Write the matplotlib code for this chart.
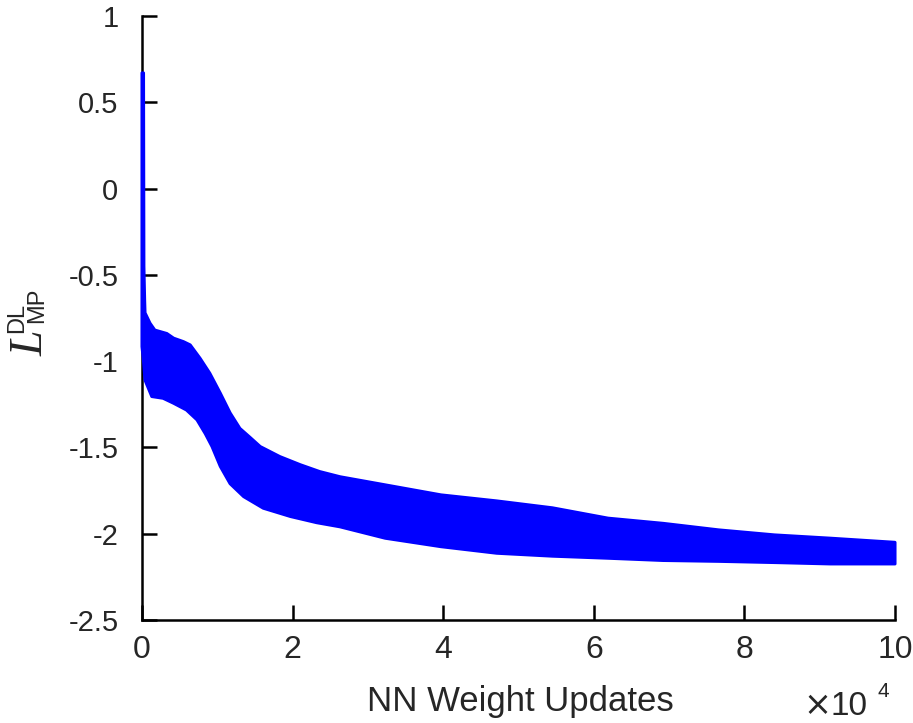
import numpy as np
import matplotlib
matplotlib.use("Agg")
import matplotlib.pyplot as plt

# envelope of the (very dense) loss trace
# x in units of 10^4 weight updates
x_hi = [0, 0.02, 0.025, 0.035, 0.04, 0.106, 0.17, 0.33, 0.42, 0.55, 0.64,
        0.77, 0.90, 1.04, 1.17, 1.30, 1.43, 1.57, 1.83, 2.10, 2.36, 2.63,
        3.23, 3.97, 4.71, 5.45, 6.19, 6.92, 7.66, 8.40, 9.14, 10.0]
loss_hi = [0.67, 0.67, -0.45, -0.65, -0.72, -0.78, -0.82, -0.84, -0.867, -0.887, -0.906,
           -0.983, -1.07, -1.186, -1.30, -1.39, -1.44, -1.495, -1.553, -1.60, -1.64, -1.67,
           -1.717, -1.775, -1.81, -1.85, -1.91, -1.94, -1.978, -2.007, -2.026, -2.05]

x_lo = [0, 0.02, 0.04, 0.13, 0.28, 0.42, 0.59, 0.73, 0.84, 0.93, 1.04,
        1.17, 1.35, 1.61, 1.97, 2.32, 2.63, 3.23, 3.97, 4.71, 5.45, 6.19,
        6.92, 7.66, 8.40, 9.14, 10.0]
loss_lo = [-0.916, -1.0, -1.11, -1.205, -1.215, -1.244, -1.283, -1.34, -1.42, -1.495, -1.61,
           -1.71, -1.785, -1.852, -1.90, -1.936, -1.96, -2.026, -2.075, -2.113, -2.13, -2.142,
           -2.155, -2.16, -2.167, -2.175, -2.175]

xticks = [0, 2, 4, 6, 8, 10]
yticks = [-2.5, -2, -1.5, -1, -0.5, 0, 0.5, 1]
ytick_labels = ["-2.5", "-2", "-1.5", "-1", "-0.5", "0", "0.5", "1"]

W, H = 913, 723
txt = "#262626"
plt.rcParams["font.family"] = ["Liberation Sans", "DejaVu Sans"]

fig = plt.figure(figsize=(W / 100, H / 100), dpi=100)
ax = fig.add_axes([142 / W, 1 - 620 / H, (895 - 142) / W, (620 - 16) / H])

# band = upper envelope forward, lower envelope back
band_x = list(x_hi) + list(x_lo[::-1])
band_y = list(loss_hi) + list(loss_lo[::-1])
ax.fill(band_x, band_y, facecolor="#0000ff", edgecolor="#0000ff", lw=2.2,
        joinstyle="round", zorder=3, clip_on=False)

ax.set_xlim(0, 10)
ax.set_ylim(-2.5, 1)
ax.set_xticks(xticks)
ax.set_xticklabels([str(t) for t in xticks])
ax.set_yticks(yticks)
ax.set_yticklabels(ytick_labels)

for s in ["top", "right"]:
    ax.spines[s].set_visible(False)
for s in ["left", "bottom"]:
    ax.spines[s].set_linewidth(1.8)
    ax.spines[s].set_color("black")
ax.tick_params(direction="in", length=11, width=1.8, colors="black", labelcolor=txt)
ax.tick_params(axis="y", pad=17, labelsize=21)
ax.tick_params(axis="x", pad=11, labelsize=23)


def px(x, y):
    return x / W, 1 - y / H


# x label and the MATLAB-style exponent
fig.text(*px(520, 711), "NN Weight Updates", ha="center", va="baseline",
         fontsize=25, color=txt)
fig.text(*px(817, 722), "\u00d7", ha="center", va="bottom", fontsize=24,
         color=txt, family="DejaVu Sans")
fig.text(*px(830, 722), "10", ha="left", va="bottom", fontsize=24, color=txt)
fig.text(*px(877, 697), "4", ha="left", va="baseline", fontsize=15, color=txt)

# y label: italic L with DL / MP scripts
fig.text(*px(43, 343), "L", rotation=90, rotation_mode="anchor", ha="center",
         va="baseline", fontsize=33, color=txt, family="Liberation Serif",
         style="italic")
fig.text(*px(23, 318), "DL", rotation=90, rotation_mode="anchor", ha="center",
         va="baseline", fontsize=17, color=txt)
fig.text(*px(43, 305), "MP", rotation=90, rotation_mode="anchor", ha="center",
         va="baseline", fontsize=17, color=txt)

fig.savefig("out.png", dpi=100)
